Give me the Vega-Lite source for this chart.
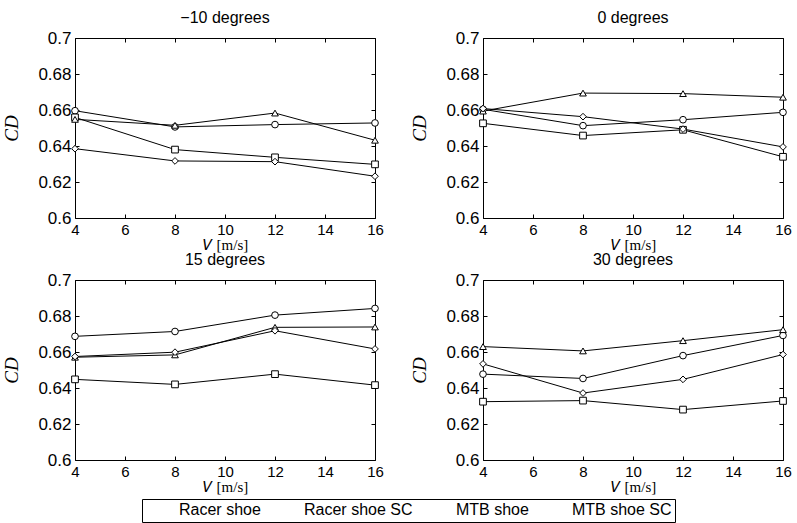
{
  "$schema": "https://vega.github.io/schema/vega-lite/v6.json",
  "padding": {"left": 2, "top": 9, "right": 5, "bottom": 0},
  "background": "white",
  "data": {"values": [
    {"panel": "-10", "shoe": "Racer shoe", "v": 4, "cd": 0.6596},
    {"panel": "-10", "shoe": "Racer shoe", "v": 8, "cd": 0.6506},
    {"panel": "-10", "shoe": "Racer shoe", "v": 12, "cd": 0.6519},
    {"panel": "-10", "shoe": "Racer shoe", "v": 16, "cd": 0.6528},
    {"panel": "-10", "shoe": "Racer shoe SC", "v": 4, "cd": 0.6559},
    {"panel": "-10", "shoe": "Racer shoe SC", "v": 8, "cd": 0.638},
    {"panel": "-10", "shoe": "Racer shoe SC", "v": 12, "cd": 0.6337},
    {"panel": "-10", "shoe": "Racer shoe SC", "v": 16, "cd": 0.6298},
    {"panel": "-10", "shoe": "MTB shoe", "v": 4, "cd": 0.6548},
    {"panel": "-10", "shoe": "MTB shoe", "v": 8, "cd": 0.6515},
    {"panel": "-10", "shoe": "MTB shoe", "v": 12, "cd": 0.6583},
    {"panel": "-10", "shoe": "MTB shoe", "v": 16, "cd": 0.6432},
    {"panel": "-10", "shoe": "MTB shoe SC", "v": 4, "cd": 0.6385},
    {"panel": "-10", "shoe": "MTB shoe SC", "v": 8, "cd": 0.6317},
    {"panel": "-10", "shoe": "MTB shoe SC", "v": 12, "cd": 0.6313},
    {"panel": "-10", "shoe": "MTB shoe SC", "v": 16, "cd": 0.6232},
    {"panel": "0", "shoe": "Racer shoe", "v": 4, "cd": 0.6604},
    {"panel": "0", "shoe": "Racer shoe", "v": 8, "cd": 0.6513},
    {"panel": "0", "shoe": "Racer shoe", "v": 12, "cd": 0.6546},
    {"panel": "0", "shoe": "Racer shoe", "v": 16, "cd": 0.6587},
    {"panel": "0", "shoe": "Racer shoe SC", "v": 4, "cd": 0.6526},
    {"panel": "0", "shoe": "Racer shoe SC", "v": 8, "cd": 0.6458},
    {"panel": "0", "shoe": "Racer shoe SC", "v": 12, "cd": 0.649},
    {"panel": "0", "shoe": "Racer shoe SC", "v": 16, "cd": 0.634},
    {"panel": "0", "shoe": "MTB shoe", "v": 4, "cd": 0.6594},
    {"panel": "0", "shoe": "MTB shoe", "v": 8, "cd": 0.6694},
    {"panel": "0", "shoe": "MTB shoe", "v": 12, "cd": 0.6691},
    {"panel": "0", "shoe": "MTB shoe", "v": 16, "cd": 0.6671},
    {"panel": "0", "shoe": "MTB shoe SC", "v": 4, "cd": 0.6608},
    {"panel": "0", "shoe": "MTB shoe SC", "v": 8, "cd": 0.6563},
    {"panel": "0", "shoe": "MTB shoe SC", "v": 12, "cd": 0.6494},
    {"panel": "0", "shoe": "MTB shoe SC", "v": 16, "cd": 0.6395},
    {"panel": "15", "shoe": "Racer shoe", "v": 4, "cd": 0.6687},
    {"panel": "15", "shoe": "Racer shoe", "v": 8, "cd": 0.6714},
    {"panel": "15", "shoe": "Racer shoe", "v": 12, "cd": 0.6805},
    {"panel": "15", "shoe": "Racer shoe", "v": 16, "cd": 0.6842},
    {"panel": "15", "shoe": "Racer shoe SC", "v": 4, "cd": 0.6448},
    {"panel": "15", "shoe": "Racer shoe SC", "v": 8, "cd": 0.642},
    {"panel": "15", "shoe": "Racer shoe SC", "v": 12, "cd": 0.6477},
    {"panel": "15", "shoe": "Racer shoe SC", "v": 16, "cd": 0.6416},
    {"panel": "15", "shoe": "MTB shoe", "v": 4, "cd": 0.6571},
    {"panel": "15", "shoe": "MTB shoe", "v": 8, "cd": 0.6584},
    {"panel": "15", "shoe": "MTB shoe", "v": 12, "cd": 0.6737},
    {"panel": "15", "shoe": "MTB shoe", "v": 16, "cd": 0.6739},
    {"panel": "15", "shoe": "MTB shoe SC", "v": 4, "cd": 0.6575},
    {"panel": "15", "shoe": "MTB shoe SC", "v": 8, "cd": 0.6599},
    {"panel": "15", "shoe": "MTB shoe SC", "v": 12, "cd": 0.6718},
    {"panel": "15", "shoe": "MTB shoe SC", "v": 16, "cd": 0.6617},
    {"panel": "30", "shoe": "Racer shoe", "v": 4, "cd": 0.6477},
    {"panel": "30", "shoe": "Racer shoe", "v": 8, "cd": 0.6453},
    {"panel": "30", "shoe": "Racer shoe", "v": 12, "cd": 0.658},
    {"panel": "30", "shoe": "Racer shoe", "v": 16, "cd": 0.6692},
    {"panel": "30", "shoe": "Racer shoe SC", "v": 4, "cd": 0.6324},
    {"panel": "30", "shoe": "Racer shoe SC", "v": 8, "cd": 0.633},
    {"panel": "30", "shoe": "Racer shoe SC", "v": 12, "cd": 0.628},
    {"panel": "30", "shoe": "Racer shoe SC", "v": 16, "cd": 0.6328},
    {"panel": "30", "shoe": "MTB shoe", "v": 4, "cd": 0.663},
    {"panel": "30", "shoe": "MTB shoe", "v": 8, "cd": 0.6606},
    {"panel": "30", "shoe": "MTB shoe", "v": 12, "cd": 0.6663},
    {"panel": "30", "shoe": "MTB shoe", "v": 16, "cd": 0.6724},
    {"panel": "30", "shoe": "MTB shoe SC", "v": 4, "cd": 0.6534},
    {"panel": "30", "shoe": "MTB shoe SC", "v": 8, "cd": 0.6372},
    {"panel": "30", "shoe": "MTB shoe SC", "v": 12, "cd": 0.6448},
    {"panel": "30", "shoe": "MTB shoe SC", "v": 16, "cd": 0.6586}
  ]},
  "columns": 2,
  "spacing": {"row": -2, "column": 26},
  "concat": [
    {
      "title": "−10 degrees",
      "width": 300, "height": 180,
      "transform": [{"filter": "datum.panel === '-10'"}],
      "layer": [
        {"mark": {"type": "line", "color": "black", "strokeWidth": 1},
         "encoding": {
           "x": {"field": "v", "type": "quantitative", "scale": {"domain": [4, 16]}, "title": "𝑉 [m/s]", "axis": {"values": [4, 6, 8, 10, 12, 14, 16]}},
           "y": {"field": "cd", "type": "quantitative", "scale": {"domain": [0.6, 0.7]}, "title": "CD", "axis": {"values": [0.6, 0.62, 0.64, 0.66, 0.68, 0.7], "format": ".2~f"}},
           "detail": {"field": "shoe"}
         }},
        {"mark": {"type": "point", "filled": false, "fill": "white", "stroke": "black", "strokeWidth": 1, "opacity": 1, "size": 45},
         "encoding": {
           "x": {"field": "v", "type": "quantitative", "axis": {"orient": "top", "labels": false, "title": null, "values": [4, 6, 8, 10, 12, 14, 16]}},
           "y": {"field": "cd", "type": "quantitative", "axis": {"orient": "right", "labels": false, "title": null, "values": [0.6, 0.62, 0.64, 0.66, 0.68, 0.7]}},
           "shape": {"field": "shoe", "type": "nominal", "scale": {"domain": ["Racer shoe", "Racer shoe SC", "MTB shoe", "MTB shoe SC"], "range": ["circle", "square", "triangle-up", "diamond"]},
             "legend": {
               "orient": "none", "legendX": 67, "legendY": 461, "direction": "horizontal", "title": null,
               "symbolSize": 196, "symbolStrokeWidth": 1, "symbolStrokeColor": "black", "symbolFillColor": "white", "symbolOpacity": 1,
               "labelFont": "Liberation Sans", "labelFontSize": 16, "labelColor": "black", "labelOffset": 18,
               "columnPadding": 8, "padding": 3, "strokeColor": "black", "fillColor": "white", "cornerRadius": 0,
               "encode": {"symbols": {
                 "shape": {"value": {"expr": "datum.value === 'Racer shoe' ? 'M-1,0H0.67A0.33,0.33,0,1,1,1.33,0A0.33,0.33,0,1,1,0.67,0M1.33,0H3' : datum.value === 'Racer shoe SC' ? 'M-1,0H0.69M0.69,-0.31H1.31V0.31H0.69ZM1.31,0H3' : datum.value === 'MTB shoe' ? 'M-1,0H0.76M0.6,0.28L1,-0.42L1.4,0.28ZM1.24,0H3' : 'M-1,0H0.7M0.7,0L1,-0.4L1.3,0L1,0.4ZM1.3,0H3'"}},
                 "fill": {"value": "white"},
                 "stroke": {"value": "black"},
                 "strokeWidth": {"value": 1},
                 "size": {"value": 196},
                 "opacity": {"value": 1}
               }}
             }}
         }}
      ],
      "resolve": {"axis": {"x": "independent", "y": "independent"}}
    },
    {
      "title": "0 degrees",
      "width": 300, "height": 180,
      "transform": [{"filter": "datum.panel === '0'"}],
      "layer": [
        {"mark": {"type": "line", "color": "black", "strokeWidth": 1},
         "encoding": {
           "x": {"field": "v", "type": "quantitative", "scale": {"domain": [4, 16]}, "title": "𝑉 [m/s]", "axis": {"values": [4, 6, 8, 10, 12, 14, 16]}},
           "y": {"field": "cd", "type": "quantitative", "scale": {"domain": [0.6, 0.7]}, "title": "CD", "axis": {"values": [0.6, 0.62, 0.64, 0.66, 0.68, 0.7], "format": ".2~f"}},
           "detail": {"field": "shoe"}
         }},
        {"mark": {"type": "point", "filled": false, "fill": "white", "stroke": "black", "strokeWidth": 1, "opacity": 1, "size": 45},
         "encoding": {
           "x": {"field": "v", "type": "quantitative", "axis": {"orient": "top", "labels": false, "title": null, "values": [4, 6, 8, 10, 12, 14, 16]}},
           "y": {"field": "cd", "type": "quantitative", "axis": {"orient": "right", "labels": false, "title": null, "values": [0.6, 0.62, 0.64, 0.66, 0.68, 0.7]}},
           "shape": {"field": "shoe", "type": "nominal", "scale": {"domain": ["Racer shoe", "Racer shoe SC", "MTB shoe", "MTB shoe SC"], "range": ["circle", "square", "triangle-up", "diamond"]},
             "legend": {
               "orient": "none", "legendX": 67, "legendY": 461, "direction": "horizontal", "title": null,
               "symbolSize": 196, "symbolStrokeWidth": 1, "symbolStrokeColor": "black", "symbolFillColor": "white", "symbolOpacity": 1,
               "labelFont": "Liberation Sans", "labelFontSize": 16, "labelColor": "black", "labelOffset": 18,
               "columnPadding": 8, "padding": 3, "strokeColor": "black", "fillColor": "white", "cornerRadius": 0,
               "encode": {"symbols": {
                 "shape": {"value": {"expr": "datum.value === 'Racer shoe' ? 'M-1,0H0.67A0.33,0.33,0,1,1,1.33,0A0.33,0.33,0,1,1,0.67,0M1.33,0H3' : datum.value === 'Racer shoe SC' ? 'M-1,0H0.69M0.69,-0.31H1.31V0.31H0.69ZM1.31,0H3' : datum.value === 'MTB shoe' ? 'M-1,0H0.76M0.6,0.28L1,-0.42L1.4,0.28ZM1.24,0H3' : 'M-1,0H0.7M0.7,0L1,-0.4L1.3,0L1,0.4ZM1.3,0H3'"}},
                 "fill": {"value": "white"},
                 "stroke": {"value": "black"},
                 "strokeWidth": {"value": 1},
                 "size": {"value": 196},
                 "opacity": {"value": 1}
               }}
             }}
         }}
      ],
      "resolve": {"axis": {"x": "independent", "y": "independent"}}
    },
    {
      "title": "15 degrees",
      "width": 300, "height": 180,
      "transform": [{"filter": "datum.panel === '15'"}],
      "layer": [
        {"mark": {"type": "line", "color": "black", "strokeWidth": 1},
         "encoding": {
           "x": {"field": "v", "type": "quantitative", "scale": {"domain": [4, 16]}, "title": "𝑉 [m/s]", "axis": {"values": [4, 6, 8, 10, 12, 14, 16]}},
           "y": {"field": "cd", "type": "quantitative", "scale": {"domain": [0.6, 0.7]}, "title": "CD", "axis": {"values": [0.6, 0.62, 0.64, 0.66, 0.68, 0.7], "format": ".2~f"}},
           "detail": {"field": "shoe"}
         }},
        {"mark": {"type": "point", "filled": false, "fill": "white", "stroke": "black", "strokeWidth": 1, "opacity": 1, "size": 45},
         "encoding": {
           "x": {"field": "v", "type": "quantitative", "axis": {"orient": "top", "labels": false, "title": null, "values": [4, 6, 8, 10, 12, 14, 16]}},
           "y": {"field": "cd", "type": "quantitative", "axis": {"orient": "right", "labels": false, "title": null, "values": [0.6, 0.62, 0.64, 0.66, 0.68, 0.7]}},
           "shape": {"field": "shoe", "type": "nominal", "scale": {"domain": ["Racer shoe", "Racer shoe SC", "MTB shoe", "MTB shoe SC"], "range": ["circle", "square", "triangle-up", "diamond"]},
             "legend": {
               "orient": "none", "legendX": 67, "legendY": 461, "direction": "horizontal", "title": null,
               "symbolSize": 196, "symbolStrokeWidth": 1, "symbolStrokeColor": "black", "symbolFillColor": "white", "symbolOpacity": 1,
               "labelFont": "Liberation Sans", "labelFontSize": 16, "labelColor": "black", "labelOffset": 18,
               "columnPadding": 8, "padding": 3, "strokeColor": "black", "fillColor": "white", "cornerRadius": 0,
               "encode": {"symbols": {
                 "shape": {"value": {"expr": "datum.value === 'Racer shoe' ? 'M-1,0H0.67A0.33,0.33,0,1,1,1.33,0A0.33,0.33,0,1,1,0.67,0M1.33,0H3' : datum.value === 'Racer shoe SC' ? 'M-1,0H0.69M0.69,-0.31H1.31V0.31H0.69ZM1.31,0H3' : datum.value === 'MTB shoe' ? 'M-1,0H0.76M0.6,0.28L1,-0.42L1.4,0.28ZM1.24,0H3' : 'M-1,0H0.7M0.7,0L1,-0.4L1.3,0L1,0.4ZM1.3,0H3'"}},
                 "fill": {"value": "white"},
                 "stroke": {"value": "black"},
                 "strokeWidth": {"value": 1},
                 "size": {"value": 196},
                 "opacity": {"value": 1}
               }}
             }}
         }}
      ],
      "resolve": {"axis": {"x": "independent", "y": "independent"}}
    },
    {
      "title": "30 degrees",
      "width": 300, "height": 180,
      "transform": [{"filter": "datum.panel === '30'"}],
      "layer": [
        {"mark": {"type": "line", "color": "black", "strokeWidth": 1},
         "encoding": {
           "x": {"field": "v", "type": "quantitative", "scale": {"domain": [4, 16]}, "title": "𝑉 [m/s]", "axis": {"values": [4, 6, 8, 10, 12, 14, 16]}},
           "y": {"field": "cd", "type": "quantitative", "scale": {"domain": [0.6, 0.7]}, "title": "CD", "axis": {"values": [0.6, 0.62, 0.64, 0.66, 0.68, 0.7], "format": ".2~f"}},
           "detail": {"field": "shoe"}
         }},
        {"mark": {"type": "point", "filled": false, "fill": "white", "stroke": "black", "strokeWidth": 1, "opacity": 1, "size": 45},
         "encoding": {
           "x": {"field": "v", "type": "quantitative", "axis": {"orient": "top", "labels": false, "title": null, "values": [4, 6, 8, 10, 12, 14, 16]}},
           "y": {"field": "cd", "type": "quantitative", "axis": {"orient": "right", "labels": false, "title": null, "values": [0.6, 0.62, 0.64, 0.66, 0.68, 0.7]}},
           "shape": {"field": "shoe", "type": "nominal", "scale": {"domain": ["Racer shoe", "Racer shoe SC", "MTB shoe", "MTB shoe SC"], "range": ["circle", "square", "triangle-up", "diamond"]},
             "legend": {
               "orient": "none", "legendX": 67, "legendY": 461, "direction": "horizontal", "title": null,
               "symbolSize": 196, "symbolStrokeWidth": 1, "symbolStrokeColor": "black", "symbolFillColor": "white", "symbolOpacity": 1,
               "labelFont": "Liberation Sans", "labelFontSize": 16, "labelColor": "black", "labelOffset": 18,
               "columnPadding": 8, "padding": 3, "strokeColor": "black", "fillColor": "white", "cornerRadius": 0,
               "encode": {"symbols": {
                 "shape": {"value": {"expr": "datum.value === 'Racer shoe' ? 'M-1,0H0.67A0.33,0.33,0,1,1,1.33,0A0.33,0.33,0,1,1,0.67,0M1.33,0H3' : datum.value === 'Racer shoe SC' ? 'M-1,0H0.69M0.69,-0.31H1.31V0.31H0.69ZM1.31,0H3' : datum.value === 'MTB shoe' ? 'M-1,0H0.76M0.6,0.28L1,-0.42L1.4,0.28ZM1.24,0H3' : 'M-1,0H0.7M0.7,0L1,-0.4L1.3,0L1,0.4ZM1.3,0H3'"}},
                 "fill": {"value": "white"},
                 "stroke": {"value": "black"},
                 "strokeWidth": {"value": 1},
                 "size": {"value": 196},
                 "opacity": {"value": 1}
               }}
             }}
         }}
      ],
      "resolve": {"axis": {"x": "independent", "y": "independent"}}
    }
  ],
  "config": {
    "view": {"stroke": "black", "strokeWidth": 1},
    "title": {"font": "Liberation Sans", "fontSize": 16, "fontWeight": "normal", "color": "black", "offset": 3, "anchor": "middle"},
    "axis": {
      "grid": false,
      "domain": false,
      "ticks": true,
      "tickColor": "black",
      "tickSize": -4,
      "labelFont": "Liberation Sans",
      "labelFontSize": 17,
      "labelColor": "black",
      "labelFlush": false,
      "labelOverlap": false,
      "labelPadding": 8,
      "titleFont": "Liberation Serif",
      "titleFontWeight": "normal",
      "titleColor": "black"
    },
    "axisX": {"titleFontSize": 15, "titlePadding": 0, "labelFontSize": 15},
    "axisY": {"titleFontSize": 19, "titleFontStyle": "italic", "titlePadding": 16}
  }
}
